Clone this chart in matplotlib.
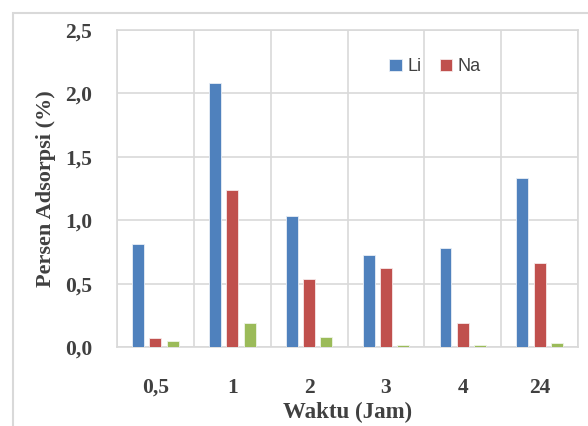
import matplotlib.pyplot as plt
import numpy as np
from matplotlib.patches import Rectangle

categories = ['0,5', '1', '2', '3', '4', '24']
li = [0.81, 2.08, 1.03, 0.73, 0.78, 1.33]
na = [0.07, 1.24, 0.54, 0.62, 0.19, 0.66]
third = [0.045, 0.19, 0.08, 0.016, 0.016, 0.035]
y_ticks = [0.0, 0.5, 1.0, 1.5, 2.0, 2.5]

text_color = '#404040'
grid_color = '#d9d9d9'
serif = ['Liberation Serif', 'DejaVu Serif']

fig = plt.figure(figsize=(5.88, 4.26), dpi=100)
ax = fig.add_axes([0.199, 0.185, 0.784, 0.745])

# outer chart frame
fig.patches.append(Rectangle((13 / 588, -0.1), 1.2, 1 - 13 / 426 + 0.1,
                             transform=fig.transFigure, fill=False,
                             edgecolor=grid_color, linewidth=1.5))

x = np.arange(len(categories))
w = 0.155
step = 0.225
ax.bar(x - step, li, w, color='#4F81BD', edgecolor='#e8eef6', linewidth=0.6, label='Li', zorder=3)
ax.bar(x, na, w, color='#C0504D', edgecolor='#f6e8e8', linewidth=0.6, label='Na', zorder=3)
ax.bar(x + step, third, w, color='#9BBB59', edgecolor='#eef4e6', linewidth=0.6, zorder=3)

ax.set_xlim(-0.5, len(categories) - 0.5)
ax.set_ylim(0, 2.5)
ax.set_yticks(y_ticks)
ax.set_yticklabels([f'{v:.1f}'.replace('.', ',') for v in y_ticks])
ax.set_xticks(x)
ax.set_xticklabels(categories)
ax.set_xticks(np.arange(len(categories) + 1) - 0.5, minor=True)

ax.grid(axis='y', which='major', color=grid_color, linewidth=1.2, zorder=0)
ax.grid(axis='x', which='minor', color=grid_color, linewidth=1.2, zorder=0)
ax.grid(axis='x', which='major', visible=False)
ax.tick_params(which='both', length=0)
ax.tick_params(axis='y', pad=18)
ax.tick_params(axis='x', pad=22)
for s in ax.spines.values():
    s.set_color(grid_color)
    s.set_linewidth(1.2)

for lab in ax.get_xticklabels() + ax.get_yticklabels():
    lab.set_family(serif)
    lab.set_fontweight('bold')
    lab.set_fontsize(15.5)
    lab.set_color(text_color)

ax.set_xlabel('Waktu (Jam)', family=serif, fontweight='bold', fontsize=16.5,
              color=text_color, labelpad=3)
ax.set_ylabel('Persen Adsorpsi (%)', family=serif, fontweight='bold', fontsize=16,
              color=text_color, labelpad=6)

leg = ax.legend(loc='center', bbox_to_anchor=(0.69, 0.883), ncol=2, frameon=False,
                handlelength=0.7, handleheight=0.7, handletextpad=0.3,
                columnspacing=1.0, prop={'family': 'Liberation Sans', 'size': 13})
for t in leg.get_texts():
    t.set_color(text_color)

fig.savefig('out.png', dpi=100)
